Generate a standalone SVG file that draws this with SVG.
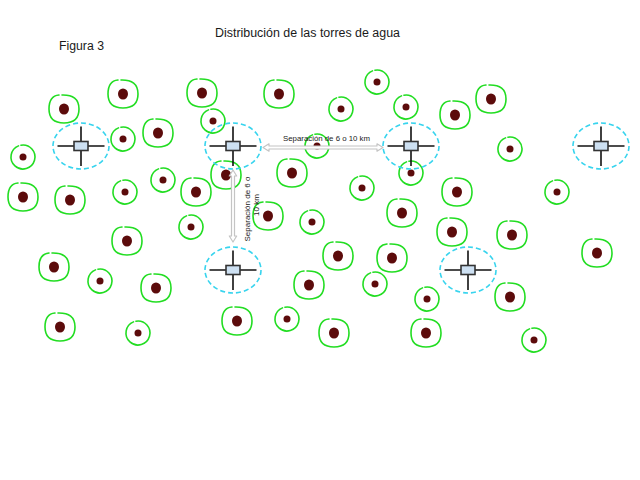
<svg xmlns="http://www.w3.org/2000/svg" xmlns:xlink="http://www.w3.org/1999/xlink" width="640" height="480" viewBox="0 0 640 480">
<style>
.txt{font-family:"Liberation Sans",Arial,sans-serif;fill:#1a1a1a}
.ring{fill:none;stroke:#22dd22;stroke-width:1.6;stroke-linecap:round}
.dot{fill:#5c0b0b}
.zone{fill:none;stroke:#38d4ee;stroke-width:1.6;stroke-dasharray:5 3}
.arm{stroke:#111;stroke-width:1.6}
.tank{fill:#cde0f2;stroke:#333;stroke-width:1.6}
.arrow{fill:#fff;stroke:#c4c4c4;stroke-width:1.2;stroke-linejoin:round}
</style>
<defs>
<g id="lg">
<path class="ring" d="M -2,-14 C 9,-14.3 15,-10 15,0 C 15,10 10,14 0,14 C -10,14 -15,10 -15,0 C -15,-9 -11,-13.5 -5,-14"/>
<ellipse class="dot" cx="0" cy="0" rx="5" ry="5.5"/>
</g>
<g id="sm">
<path class="ring" d="M -2.08,-11.82 A 12 12 0 1 1 -4.5,-11.13"/>
<circle class="dot" cx="0" cy="0" r="3.5"/>
</g>
<g id="tower">
<ellipse class="zone" cx="0" cy="0" rx="28" ry="23"/>
<line class="arm" x1="-23.5" y1="0" x2="23.5" y2="0"/>
<line class="arm" x1="0" y1="-19.5" x2="0" y2="20"/>
<rect class="tank" x="-7" y="-4.5" width="14" height="9"/>
</g>
</defs>
<rect width="640" height="480" fill="#fff"/>
<text class="txt" x="215" y="37" font-size="12" textLength="185" lengthAdjust="spacingAndGlyphs">Distribución de las torres de agua</text>
<text class="txt" x="59" y="50" font-size="12" textLength="45" lengthAdjust="spacingAndGlyphs">Figura 3</text>
<g id="cells">
<g id="c1"><use href="#lg" x="64" y="109"/></g>
<g id="c2"><use href="#lg" x="123" y="94"/></g>
<g id="c3"><use href="#lg" x="202" y="93"/></g>
<g id="c4"><use href="#sm" x="213" y="121"/></g>
<g id="c5"><use href="#sm" x="123" y="139"/></g>
<g id="c6"><use href="#lg" x="158" y="133"/></g>
<g id="c7"><use href="#sm" x="23" y="157"/></g>
<g id="c8"><use href="#lg" x="23" y="197"/></g>
<g id="c9"><use href="#lg" x="70" y="200"/></g>
<g id="c10"><use href="#sm" x="125" y="192"/></g>
<g id="c11"><use href="#sm" x="163" y="180"/></g>
<g id="c12"><use href="#lg" x="196" y="192"/></g>
<g id="c13"><use href="#sm" x="191" y="227"/></g>
<g id="c14"><use href="#lg" x="127" y="241"/></g>
<g id="c15"><use href="#lg" x="54" y="267"/></g>
<g id="c16"><use href="#sm" x="100" y="281"/></g>
<g id="c17"><use href="#lg" x="156" y="288"/></g>
<g id="c18"><use href="#lg" x="60" y="327"/></g>
<g id="c19"><use href="#sm" x="138" y="333"/></g>
<g id="c20"><use href="#lg" x="279" y="94"/></g>
<g id="c21"><use href="#sm" x="377" y="82"/></g>
<g id="c22"><use href="#sm" x="341" y="109"/></g>
<g id="c23"><use href="#sm" x="406" y="107"/></g>
<g id="c24"><use href="#sm" x="317" y="146"/></g>
<g id="c25"><use href="#lg" x="226" y="175"/></g>
<g id="c26"><use href="#lg" x="292" y="173"/></g>
<g id="c27"><use href="#sm" x="411" y="173"/></g>
<g id="c28"><use href="#sm" x="362" y="188"/></g>
<g id="c29"><use href="#lg" x="402" y="213"/></g>
<g id="c30"><use href="#lg" x="268" y="216"/></g>
<g id="c31"><use href="#sm" x="312" y="222"/></g>
<g id="c32"><use href="#lg" x="338" y="256"/></g>
<g id="c33"><use href="#lg" x="392" y="258"/></g>
<g id="c34"><use href="#lg" x="309" y="285"/></g>
<g id="c35"><use href="#sm" x="375" y="284"/></g>
<g id="c36"><use href="#sm" x="427" y="299"/></g>
<g id="c37"><use href="#lg" x="237" y="321"/></g>
<g id="c38"><use href="#sm" x="287" y="319"/></g>
<g id="c39"><use href="#lg" x="334" y="333"/></g>
<g id="c40"><use href="#lg" x="426" y="333"/></g>
<g id="c41"><use href="#lg" x="452" y="232"/></g>
<g id="c42"><use href="#lg" x="512" y="235"/></g>
<g id="c43"><use href="#lg" x="597" y="253"/></g>
<g id="c44"><use href="#lg" x="510" y="297"/></g>
<g id="c45"><use href="#sm" x="534" y="340"/></g>
<g id="c46"><use href="#lg" x="491" y="99"/></g>
<g id="c47"><use href="#lg" x="455" y="115"/></g>
<g id="c48"><use href="#sm" x="510" y="149"/></g>
<g id="c49"><use href="#lg" x="457" y="192"/></g>
<g id="c50"><use href="#sm" x="557" y="192"/></g>
</g>
<g id="towers">
<g id="t1"><use href="#tower" x="81" y="146"/></g>
<g id="t2"><use href="#tower" x="233" y="146"/></g>
<g id="t3"><use href="#tower" x="411" y="146"/></g>
<g id="t4"><use href="#tower" x="601" y="146"/></g>
<g id="t5"><use href="#tower" x="233" y="270"/></g>
<g id="t6"><use href="#tower" x="468" y="270"/></g>
</g>
<g id="connectors">
<polygon class="arrow" points="263,147.5 269,143.8 269,146 377,146 377,143.8 383,147.5 377,151.2 377,149 269,149 269,151.2"/>
<polygon class="arrow" points="233,170 236.7,176 234.5,176 234.5,236 236.7,236 233,242 229.3,236 231.5,236 231.5,176 229.3,176"/>
<text class="txt" x="326.5" y="141" font-size="8" text-anchor="middle" textLength="87" lengthAdjust="spacingAndGlyphs">Separación de 6 o 10 km</text>
<text class="txt" font-size="8" text-anchor="middle" transform="translate(250,209) rotate(-90)">Separación de 6 o</text>
<text class="txt" font-size="8" text-anchor="middle" transform="translate(258.5,205) rotate(-90)">10 km</text>
</g>
</svg>
